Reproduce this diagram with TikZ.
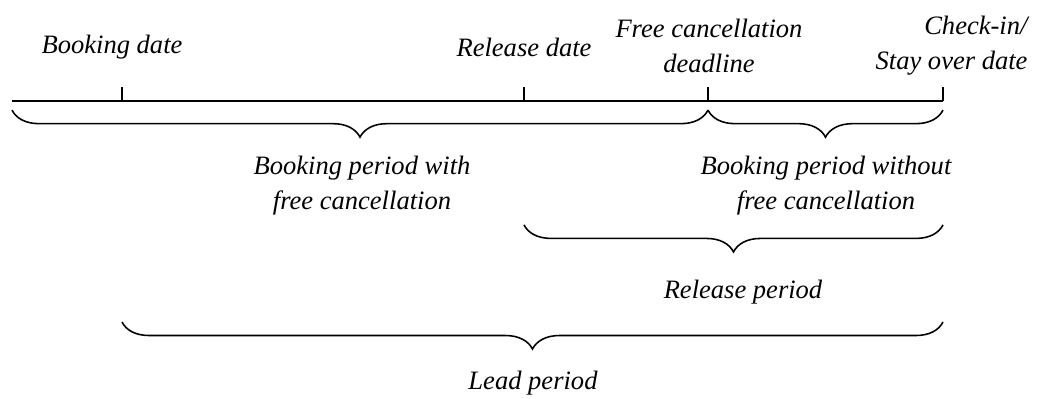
\documentclass[tikz,border=0pt]{standalone}
\usepackage{fontspec}
\setmainfont{Liberation Serif}
\usetikzlibrary{decorations.pathreplacing}

\tikzset{
  timeline/.style={line width=0.8pt},
  periodbrace/.style={decorate, decoration={brace, mirror, amplitude=10.4pt}, line width=0.6pt},
  lbl/.style={font=\itshape\fontsize{10.2}{13.5}\selectfont, align=center, inner sep=0pt},
}

\begin{document}
\begin{tikzpicture}[x=0.0135cm, y=-0.0135cm]
      \useasboundingbox (0,0) rectangle (1056,398);

      % points on the time line
      \coordinate (start) at (12,101);
      \coordinate (booking) at (122,101);
      \coordinate (release) at (524,101);
      \coordinate (deadline) at (708,101);
      \coordinate (checkin) at (943,101);

      \draw[timeline] (start) -- (checkin);
      \foreach \p in {booking, release, deadline, checkin}
        \draw[timeline] (\p) -- ++(0,-14);

      \node[lbl] (bookingdate) at (112,47) {Booking date};
      \node[lbl] (releasedate) at (524,47) {Release date};
      \node[lbl] (deadlinelbl) at (709,46) {Free cancellation\\deadline};
      \node[lbl, align=right, anchor=east] (checkinlbl) at (1028,46) {Check-in/\\Stay over date};

      % periods
      \draw[periodbrace] ([yshift=-3.5pt]start) -- ([yshift=-3.5pt]deadline);
      \draw[periodbrace] ([yshift=-3.5pt]deadline) -- ([yshift=-3.5pt]checkin);
      \draw[periodbrace] ([yshift=-47.6pt]release) -- ([yshift=-47.6pt]checkin);
      \draw[periodbrace] ([yshift=-84.9pt]booking) -- ([yshift=-84.9pt]checkin);

      \node[lbl] (withfree) at (362,186) {Booking period with\\free cancellation};
      \node[lbl] (withoutfree) at (826,186) {Booking period without\\free cancellation};
      \node[lbl] (releaseperiod) at (743,292) {Release period};
      \node[lbl] (leadperiod) at (533,383) {Lead period};
\end{tikzpicture}
\end{document}
